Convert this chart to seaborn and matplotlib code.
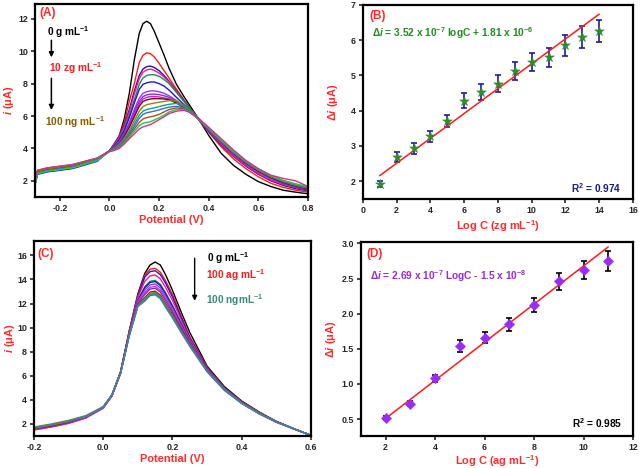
import numpy as np
import pandas as pd
import matplotlib
matplotlib.use("Agg")
import matplotlib.pyplot as plt
import seaborn as sns

# ---------------- Data ----------------
# Panel A: DPV curves (potential grid in V, currents in µA)
a_x = [-0.30, -0.29, -0.25, -0.15, -0.05, 0.00, 0.02, 0.04, 0.06, 0.08, 0.10, 0.12, 0.135,
       0.15, 0.165, 0.18, 0.20, 0.22, 0.24, 0.27, 0.30, 0.33, 0.36, 0.40, 0.45, 0.50, 0.55,
       0.60, 0.65, 0.70, 0.75, 0.80]
a_curves = {
    "a01": [1.95, 2.6, 2.75, 2.95, 3.35, 3.85, 4.2, 4.8, 5.85, 7.4, 9.45, 11.1, 11.7, 11.85, 11.7, 11.25, 10.5, 9.75, 8.95, 7.95, 7.2, 6.5, 5.8, 4.8, 3.7, 2.95, 2.4, 1.95, 1.65, 1.42, 1.3, 1.2],
    "a02": [1.9, 2.55, 2.7, 2.9, 3.3, 3.85, 4.3, 4.8, 5.6, 6.9, 8.0, 9.3, 9.75, 9.9, 9.85, 9.65, 9.25, 8.8, 8.35, 7.65, 7.0, 6.35, 5.75, 5.0, 4.1, 3.35, 2.75, 2.25, 1.85, 1.6, 1.42, 1.3],
    "a03": [1.8, 2.45, 2.6, 2.8, 3.25, 3.85, 4.3, 4.75, 5.45, 6.4, 7.55, 8.5, 8.9, 9.05, 9.08, 9.0, 8.8, 8.5, 8.15, 7.55, 6.95, 6.35, 5.8, 5.05, 4.2, 3.5, 2.9, 2.4, 2.0, 1.72, 1.52, 1.38],
    "a04": [1.9, 2.6, 2.75, 2.95, 3.35, 3.85, 4.25, 4.7, 5.35, 6.25, 7.35, 8.3, 8.7, 8.85, 8.9, 8.82, 8.65, 8.4, 8.1, 7.5, 6.9, 6.35, 5.8, 5.1, 4.25, 3.55, 2.95, 2.45, 2.05, 1.78, 1.58, 1.42],
    "a05": [1.85, 2.5, 2.65, 2.85, 3.3, 3.85, 4.2, 4.6, 5.2, 6.05, 7.0, 7.95, 8.35, 8.5, 8.55, 8.55, 8.45, 8.25, 8.0, 7.45, 6.9, 6.35, 5.85, 5.15, 4.35, 3.65, 3.05, 2.55, 2.15, 1.85, 1.62, 1.48],
    "a06": [1.75, 2.4, 2.55, 2.75, 3.2, 3.85, 4.15, 4.55, 5.1, 5.9, 6.8, 7.65, 7.95, 8.05, 8.1, 8.1, 8.0, 7.85, 7.6, 7.15, 6.7, 6.25, 5.8, 5.15, 4.35, 3.65, 3.05, 2.55, 2.15, 1.85, 1.62, 1.46],
    "a07": [1.85, 2.5, 2.65, 2.85, 3.3, 3.85, 4.1, 4.45, 4.95, 5.6, 6.4, 7.1, 7.4, 7.5, 7.55, 7.55, 7.5, 7.4, 7.25, 6.95, 6.6, 6.2, 5.8, 5.15, 4.35, 3.65, 3.05, 2.55, 2.15, 1.85, 1.63, 1.48],
    "a08": [1.8, 2.45, 2.6, 2.8, 3.25, 3.85, 4.05, 4.4, 4.9, 5.5, 6.25, 6.9, 7.2, 7.3, 7.35, 7.35, 7.32, 7.25, 7.15, 6.9, 6.55, 6.2, 5.8, 5.15, 4.4, 3.7, 3.1, 2.6, 2.2, 1.9, 1.67, 1.5],
    "a09": [1.85, 2.5, 2.65, 2.85, 3.3, 3.85, 4.05, 4.35, 4.8, 5.4, 6.1, 6.75, 7.05, 7.15, 7.2, 7.2, 7.18, 7.12, 7.05, 6.85, 6.55, 6.2, 5.8, 5.2, 4.4, 3.7, 3.1, 2.6, 2.2, 1.9, 1.68, 1.5],
    "a10": [1.9, 2.55, 2.7, 2.9, 3.3, 3.85, 4.0, 4.3, 4.75, 5.3, 5.95, 6.6, 6.9, 7.0, 7.05, 7.07, 7.07, 7.05, 7.0, 6.8, 6.5, 6.15, 5.8, 5.2, 4.4, 3.7, 3.1, 2.6, 2.2, 1.9, 1.68, 1.5],
    "a11": [1.95, 2.6, 2.75, 2.95, 3.35, 3.85, 4.0, 4.25, 4.65, 5.1, 5.7, 6.3, 6.58, 6.7, 6.75, 6.8, 6.85, 6.9, 6.95, 6.93, 6.65, 6.25, 5.8, 5.2, 4.45, 3.75, 3.15, 2.65, 2.25, 1.95, 1.72, 1.55],
    "a12": [1.85, 2.5, 2.65, 2.85, 3.3, 3.85, 3.98, 4.2, 4.55, 5.0, 5.5, 6.05, 6.3, 6.4, 6.45, 6.5, 6.58, 6.66, 6.72, 6.78, 6.6, 6.25, 5.8, 5.2, 4.45, 3.75, 3.15, 2.68, 2.28, 1.98, 1.75, 1.58],
    "a13": [1.8, 2.45, 2.6, 2.8, 3.25, 3.85, 3.95, 4.15, 4.5, 4.9, 5.35, 5.85, 6.1, 6.2, 6.25, 6.3, 6.38, 6.47, 6.55, 6.6, 6.5, 6.2, 5.8, 5.2, 4.45, 3.75, 3.15, 2.68, 2.28, 1.98, 1.75, 1.58],
    "a14": [2.0, 2.65, 2.8, 3.0, 3.4, 3.85, 3.93, 4.1, 4.4, 4.8, 5.2, 5.6, 5.82, 5.9, 5.95, 6.0, 6.1, 6.25, 6.4, 6.5, 6.45, 6.2, 5.8, 5.25, 4.5, 3.8, 3.2, 2.72, 2.32, 2.02, 1.8, 1.62],
    "a15": [1.8, 2.45, 2.6, 2.8, 3.25, 3.8, 3.9, 4.05, 4.35, 4.7, 5.05, 5.4, 5.55, 5.6, 5.65, 5.75, 5.9, 6.05, 6.25, 6.4, 6.4, 6.2, 5.8, 5.25, 4.5, 3.8, 3.2, 2.72, 2.32, 2.02, 1.8, 1.62],
    "a16": [2.0, 2.65, 2.8, 3.0, 3.4, 3.8, 3.88, 4.0, 4.28, 4.6, 4.9, 5.2, 5.33, 5.4, 5.47, 5.6, 5.78, 5.95, 6.15, 6.3, 6.35, 6.2, 5.85, 5.3, 4.6, 3.9, 3.25, 2.75, 2.35, 2.15, 2.0, 1.65],
}
a_colors = ["#000000", "#ff1a1a", "#1a1aa0", "#ff1493", "#1f8f5a", "#1a1acc",
            "#9933ff", "#8a2be2", "#cc22cc", "#800020", "#8b8b00", "#1a9a9a",
            "#3d6fc0", "#a0522d", "#1fcc3a", "#cc3399"]

# Panel B: calibration (zg/mL)
b_logc = [1, 2, 3, 4, 5, 6, 7, 8, 9, 10, 11, 12, 13, 14]
b_di = [1.93, 2.7, 2.93, 3.27, 3.72, 4.28, 4.53, 4.77, 5.13, 5.38, 5.52, 5.85, 6.09, 6.27]
b_err = [0.09, 0.14, 0.15, 0.15, 0.17, 0.21, 0.22, 0.23, 0.25, 0.26, 0.27, 0.29, 0.30, 0.31]
b_fit_x = [1, 14]
b_fit_y = [2.16, 6.74]

# Panel C: DPV curves
c_x = [-0.2, -0.15, -0.1, -0.05, 0.0, 0.025, 0.05, 0.075, 0.1, 0.12, 0.135, 0.15, 0.165,
       0.18, 0.2, 0.225, 0.25, 0.3, 0.35, 0.4, 0.45, 0.5, 0.55, 0.6]
c_curves = {
    "c01": [1.55, 1.8, 2.1, 2.55, 3.4, 4.4, 6.3, 9.7, 12.8, 14.5, 15.2, 15.45, 15.2, 14.4, 13.1, 11.3, 9.6, 6.8, 5.1, 3.9, 3.0, 2.2, 1.6, 1.05],
    "c02": [1.6, 1.85, 2.15, 2.6, 3.4, 4.4, 6.3, 9.7, 12.7, 14.35, 14.85, 14.93, 14.6, 13.9, 12.75, 11.0, 9.25, 6.7, 5.0, 3.85, 2.95, 2.2, 1.6, 1.05],
    "c03": [1.65, 1.9, 2.2, 2.6, 3.4, 4.4, 6.3, 9.6, 12.6, 14.2, 14.65, 14.73, 14.4, 13.7, 12.55, 10.85, 9.15, 6.65, 5.0, 3.85, 2.95, 2.2, 1.6, 1.05],
    "c04": [1.5, 1.75, 2.05, 2.5, 3.35, 4.35, 6.25, 9.6, 12.5, 13.85, 14.3, 14.38, 14.05, 13.35, 12.25, 10.65, 9.05, 6.6, 4.95, 3.8, 2.95, 2.2, 1.6, 1.05],
    "c05": [1.6, 1.85, 2.15, 2.6, 3.4, 4.4, 6.3, 9.5, 12.3, 13.4, 13.85, 13.93, 13.6, 12.9, 11.85, 10.4, 8.9, 6.55, 4.95, 3.8, 2.95, 2.2, 1.6, 1.05],
    "c06": [1.65, 1.9, 2.2, 2.6, 3.4, 4.35, 6.25, 9.5, 12.25, 13.3, 13.75, 13.83, 13.5, 12.8, 11.75, 10.3, 8.85, 6.5, 4.9, 3.8, 2.9, 2.2, 1.6, 1.05],
    "c07": [1.55, 1.8, 2.1, 2.55, 3.35, 4.35, 6.2, 9.45, 12.2, 13.1, 13.55, 13.63, 13.3, 12.6, 11.6, 10.2, 8.8, 6.5, 4.9, 3.8, 2.9, 2.2, 1.6, 1.05],
    "c08": [1.5, 1.75, 2.05, 2.5, 3.3, 4.3, 6.2, 9.45, 12.1, 12.9, 13.35, 13.43, 13.1, 12.4, 11.45, 10.1, 8.7, 6.45, 4.9, 3.75, 2.9, 2.15, 1.6, 1.05],
    "c09": [1.55, 1.8, 2.1, 2.55, 3.35, 4.3, 6.2, 9.4, 12.0, 12.75, 13.2, 13.28, 12.95, 12.25, 11.3, 10.0, 8.65, 6.45, 4.85, 3.75, 2.9, 2.15, 1.6, 1.05],
    "c10": [1.6, 1.85, 2.15, 2.6, 3.4, 4.35, 6.25, 9.4, 11.9, 12.5, 12.95, 13.03, 12.7, 12.0, 11.1, 9.85, 8.6, 6.4, 4.85, 3.75, 2.9, 2.15, 1.6, 1.05],
    "c11": [1.65, 1.9, 2.2, 2.6, 3.4, 4.35, 6.2, 9.35, 11.85, 12.4, 12.85, 12.93, 12.6, 11.9, 11.0, 9.75, 8.55, 6.4, 4.85, 3.75, 2.9, 2.15, 1.6, 1.05],
    "c12": [1.75, 2.0, 2.3, 2.7, 3.45, 4.4, 6.2, 9.3, 11.8, 12.25, 12.7, 12.78, 12.45, 11.75, 10.85, 9.65, 8.5, 6.35, 4.8, 3.7, 2.85, 2.15, 1.6, 1.05],
    "c13": [1.7, 1.95, 2.25, 2.65, 3.4, 4.35, 6.2, 9.3, 11.8, 12.3, 12.75, 12.83, 12.5, 11.8, 10.9, 9.7, 8.5, 6.35, 4.8, 3.7, 2.85, 2.15, 1.6, 1.05],
    "c14": [1.7, 1.95, 2.25, 2.65, 3.4, 4.35, 6.2, 9.3, 11.75, 12.2, 12.65, 12.73, 12.4, 11.7, 10.8, 9.6, 8.45, 6.35, 4.8, 3.7, 2.85, 2.15, 1.6, 1.05],
}
c_colors = ["#000000", "#ff1a1a", "#1a1acc", "#ff1493", "#1f8f5a", "#1a1aa0",
            "#9933ff", "#cc33cc", "#7b2fbf", "#8b1a1a", "#8b8b00", "#a08a20",
            "#2a8a8a", "#4a7ab0"]

# Panel D: calibration (ag/mL)
d_logc = [2, 3, 4, 5, 6, 7, 8, 9, 10, 11]
d_di = [0.52, 0.72, 1.08, 1.54, 1.66, 1.85, 2.12, 2.46, 2.62, 2.75]
d_err = [0.03, 0.04, 0.05, 0.08, 0.08, 0.09, 0.1, 0.12, 0.13, 0.14]
d_fit_x = [2, 11]
d_fit_y = [0.51, 2.95]

# ---------------- Style ----------------
sns.set_style("ticks")
plt.rcParams["font.family"] = ["Liberation Sans", "DejaVu Sans"]
plt.rcParams["font.weight"] = "bold"
plt.rcParams["mathtext.fontset"] = "custom"
plt.rcParams["mathtext.rm"] = "Liberation Sans:bold"
plt.rcParams["mathtext.bf"] = "Liberation Sans:bold"
plt.rcParams["mathtext.it"] = "Liberation Sans:bold:italic"
plt.rcParams["mathtext.default"] = "bf"

RED = "#ff2a2a"
fig = plt.figure(figsize=(6.4, 4.68), dpi=100)
axA = fig.add_axes([0.0547, 0.579, 0.4266, 0.412])
axB = fig.add_axes([0.567, 0.575, 0.422, 0.4145])
axC = fig.add_axes([0.053, 0.0684, 0.433, 0.4167])
axD = fig.add_axes([0.564, 0.0684, 0.425, 0.4145])


def style(ax, ylab_x, xlab_y):
    for s in ax.spines.values():
        s.set_linewidth(1.6)
        s.set_color("black")
    ax.tick_params(direction="out", length=3, width=1.2, labelsize=6.4, pad=2)
    for lab in ax.get_xticklabels() + ax.get_yticklabels():
        lab.set_fontweight("bold")
    ax.yaxis.set_label_coords(ylab_x, 0.5)
    ax.xaxis.set_label_coords(0.5, xlab_y)


def curves_df(xs, curves):
    rows = []
    for name, ys in curves.items():
        for x, y in zip(xs, ys):
            rows.append((name, x, y))
    return pd.DataFrame(rows, columns=["curve", "x", "y"])


LAB = dict(color=RED, fontsize=7.9, fontweight="bold")
ANN = 7.3

# ---- Panel A ----
dfA = curves_df(a_x, a_curves)
palA = dict(zip(a_curves.keys(), a_colors))
sns.lineplot(data=dfA, x="x", y="y", hue="curve", palette=palA, legend=False,
             estimator=None, sort=False, lw=1.0, ax=axA)
axA.set_xlim(-0.3, 0.8)
axA.set_ylim(1.0, 12.9)
axA.set_xticks([-0.2, 0.0, 0.2, 0.4, 0.6, 0.8])
axA.set_yticks([2, 4, 6, 8, 10, 12])
axA.set_xticklabels(["-0.2", "0.0", "0.2", "0.4", "0.6", "0.8"])
axA.set_xlabel("Potential (V)", **LAB)
axA.set_ylabel(r"$\mathit{i}$ (μA)", **LAB)
axA.text(-0.282, 12.35, "(A)", color=RED, fontsize=8.5, fontweight="bold", va="center")
axA.text(-0.25, 11.2, r"0 g mL$^{-1}$", color="black", fontsize=ANN, fontweight="bold", va="center")
axA.annotate("", xy=(-0.234, 9.45), xytext=(-0.234, 10.85),
             arrowprops=dict(arrowstyle="-|>", color="black", lw=1.1, mutation_scale=7))
axA.text(-0.245, 8.95, r"10 zg mL$^{-1}$", color="#ff1a1a", fontsize=ANN, fontweight="bold", va="center")
axA.annotate("", xy=(-0.234, 6.2), xytext=(-0.234, 8.5),
             arrowprops=dict(arrowstyle="-|>", color="black", lw=1.1, mutation_scale=7))
axA.text(-0.258, 5.65, r"100 ng mL$^{-1}$", color="#8b5a00", fontsize=ANN, fontweight="bold", va="center")
style(axA, -0.07, -0.092)

# ---- Panel B ----
axB.errorbar(b_logc, b_di, yerr=b_err, fmt="none", ecolor="#1c1ca0", elinewidth=1.2,
             capsize=2.5, capthick=1.2, zorder=2)
sns.lineplot(x=b_fit_x, y=b_fit_y, color="#ff1a1a", lw=1.1, ax=axB, zorder=3)
sns.scatterplot(x=b_logc, y=b_di, marker="*", s=55, color="#2e8b2e", edgecolor="#2e8b2e",
                linewidth=0.3, ax=axB, zorder=4)
axB.set_xlim(0, 16)
axB.set_ylim(1.5, 7)
axB.set_xticks(range(0, 17, 2))
axB.set_yticks([2, 3, 4, 5, 6, 7])
axB.set_xlabel(r"Log C (zg mL$^{-1}$)", **LAB)
axB.set_ylabel(r"Δ$\mathit{i}$ (μA)", **LAB)
axB.text(0.4, 6.68, "(B)", color=RED, fontsize=8.5, fontweight="bold", va="center")
axB.text(0.55, 6.2, r"Δ$\mathit{i}$ = 3.52 x 10$^{-7}$ logC + 1.81 x 10$^{-6}$",
         color="#228b22", fontsize=ANN, fontweight="bold", va="center")
axB.text(12.3, 1.8, r"R$^{2}$ = 0.974", color="#1c1c80", fontsize=ANN, fontweight="bold", va="center")
style(axB, -0.085, -0.1)

# ---- Panel C ----
dfC = curves_df(c_x, c_curves)
palC = dict(zip(c_curves.keys(), c_colors))
sns.lineplot(data=dfC, x="x", y="y", hue="curve", palette=palC, legend=False,
             estimator=None, sort=False, lw=1.0, ax=axC)
axC.set_xlim(-0.2, 0.6)
axC.set_ylim(1.0, 17.2)
axC.set_xticks([-0.2, 0.0, 0.2, 0.4, 0.6])
axC.set_xticklabels(["-0.2", "0.0", "0.2", "0.4", "0.6"])
axC.set_yticks([2, 4, 6, 8, 10, 12, 14, 16])
axC.set_xlabel("Potential (V)", **LAB)
axC.set_ylabel(r"$\mathit{i}$ (μA)", **LAB)
axC.text(-0.19, 16.1, "(C)", color=RED, fontsize=8.5, fontweight="bold", va="center")
axC.annotate("", xy=(0.264, 12.0), xytext=(0.264, 16.0),
             arrowprops=dict(arrowstyle="-|>", color="black", lw=1.0, mutation_scale=7))
axC.text(0.30, 15.8, r"0 g mL$^{-1}$", color="black", fontsize=ANN, fontweight="bold", va="center")
axC.text(0.296, 14.4, r"100 ag mL$^{-1}$", color="#ff1a1a", fontsize=ANN, fontweight="bold", va="center")
axC.text(0.296, 12.3, r"100 ngmL$^{-1}$", color="#3a8a7a", fontsize=ANN, fontweight="bold", va="center")
style(axC, -0.06, -0.09)

# ---- Panel D ----
axD.errorbar(d_logc, d_di, yerr=d_err, fmt="none", ecolor="black", elinewidth=1.2,
             capsize=2.5, capthick=1.2, zorder=2)
sns.lineplot(x=d_fit_x, y=d_fit_y, color="#ff1a1a", lw=1.1, ax=axD, zorder=3)
sns.scatterplot(x=d_logc, y=d_di, marker="D", s=28, color="#9a2bff", edgecolor="#9a2bff",
                linewidth=0.3, ax=axD, zorder=4)
axD.set_xlim(1, 12)
axD.set_ylim(0.26, 3.02)
axD.set_xticks([2, 4, 6, 8, 10, 12])
axD.set_yticks([0.5, 1.0, 1.5, 2.0, 2.5, 3.0])
axD.set_xlabel(r"Log C (ag mL$^{-1}$)", **LAB)
axD.set_ylabel(r"Δ$\mathit{i}$ (μA)", **LAB)
axD.text(1.2, 2.85, "(D)", color=RED, fontsize=8.5, fontweight="bold", va="center")
axD.text(1.35, 2.53, r"Δ$\mathit{i}$ = 2.69 x 10$^{-7}$ LogC - 1.5 x 10$^{-8}$",
         color="#9a2bd8", fontsize=ANN, fontweight="bold", va="center")
axD.text(9.55, 0.44, r"R$^{2}$ = 0.985", color="black", fontsize=ANN, fontweight="bold", va="center")
style(axD, -0.085, -0.09)

fig.savefig("out.png", dpi=100)
